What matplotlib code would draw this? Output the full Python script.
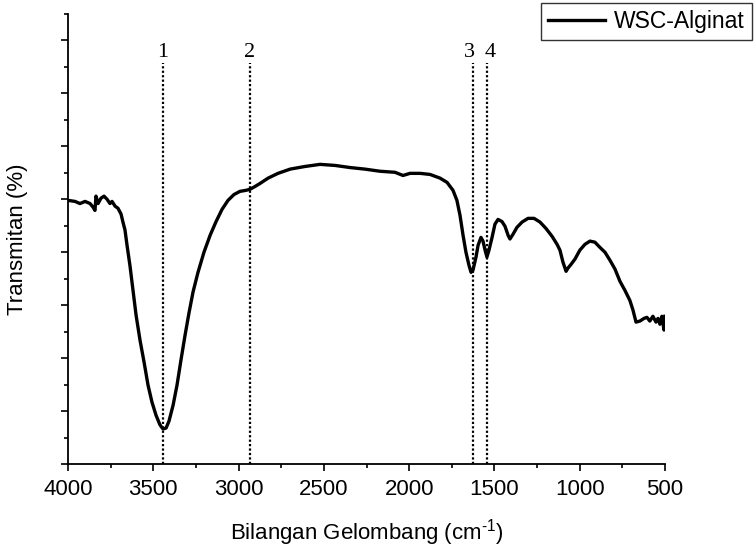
import matplotlib
matplotlib.use("Agg")
import matplotlib.pyplot as plt
from matplotlib.ticker import MultipleLocator, NullFormatter

plt.rcParams['font.family'] = ['Liberation Sans', 'DejaVu Sans']
plt.rcParams['mathtext.fontset'] = 'custom'
plt.rcParams['mathtext.rm'] = 'Liberation Sans'

# FTIR spectrum (wavenumber in cm^-1, transmittance in arbitrary units)
wavenumber = [4000, 3959, 3930, 3900, 3871, 3853, 3842, 3836, 3824, 3807, 3789, 3771,
              3754, 3742, 3724, 3707, 3689, 3678, 3666, 3654, 3637, 3619, 3601, 3578,
              3554, 3531, 3508, 3484, 3461, 3443, 3425, 3408, 3384, 3361, 3338, 3314,
              3291, 3267, 3238, 3203, 3167, 3132, 3097, 3062, 3027, 2992, 2956, 2933,
              2910, 2874, 2827, 2769, 2698, 2611, 2522, 2435, 2347, 2259, 2171, 2083,
              2036, 1995, 1936, 1878, 1819, 1778, 1743, 1720, 1702, 1684, 1667, 1649,
              1637, 1626, 1608, 1596, 1579, 1567, 1555, 1544, 1532, 1514, 1497, 1479,
              1456, 1438, 1420, 1409, 1391, 1368, 1338, 1303, 1268, 1233, 1198, 1162,
              1133, 1116, 1098, 1080, 1069, 1051, 1028, 999, 969, 940, 911, 881, 852,
              823, 793, 764, 735, 706, 688, 670, 647, 623, 606, 589, 571, 553, 541, 530,
              518, 506, 500]
transmittance = [4.98, 4.96, 4.92, 4.96, 4.92, 4.85, 4.79, 5.06, 4.92, 5.02, 5.06, 5.00,
                 4.92, 4.96, 4.87, 4.83, 4.72, 4.57, 4.42, 4.13, 3.75, 3.28, 2.81, 2.34,
                 1.92, 1.49, 1.17, 0.92, 0.74, 0.66, 0.68, 0.81, 1.11, 1.49, 1.96, 2.43,
                 2.85, 3.25, 3.62, 4.00, 4.32, 4.58, 4.81, 4.98, 5.09, 5.15, 5.17, 5.19,
                 5.23, 5.30, 5.40, 5.49, 5.57, 5.62, 5.66, 5.64, 5.60, 5.57, 5.53, 5.51,
                 5.45, 5.49, 5.49, 5.47, 5.40, 5.32, 5.17, 4.98, 4.70, 4.32, 4.00, 3.75,
                 3.62, 3.66, 3.91, 4.13, 4.28, 4.21, 4.04, 3.91, 4.04, 4.28, 4.53, 4.62,
                 4.58, 4.49, 4.32, 4.25, 4.34, 4.47, 4.57, 4.64, 4.64, 4.57, 4.45, 4.30,
                 4.15, 4.04, 3.81, 3.64, 3.70, 3.77, 3.87, 4.04, 4.15, 4.21, 4.19, 4.09,
                 4.00, 3.85, 3.68, 3.45, 3.28, 3.09, 2.91, 2.68, 2.70, 2.75, 2.77, 2.70,
                 2.79, 2.68, 2.75, 2.64, 2.79, 2.53, 2.79]

# Marked peaks
peak_positions = [3443, 2933, 1626, 1544]
peak_labels = ['1', '2', '3', '4']
peak_label_x = [3445, 2933, 1649, 1526]

series_name = 'WSC-Alginat'
x_label = 'Bilangan Gelombang (cm$^{\\text{-1}}$)'
y_label = 'Transmitan (%)'

fig = plt.figure(figsize=(7.55, 5.5), dpi=100)
ax = fig.add_axes([0.0901, 0.1564, 0.7907, 0.8181])

line, = ax.plot(wavenumber, transmittance, color='black', lw=2.4, label=series_name)

ax.vlines(peak_positions, 0, 7.58, colors='black', linestyles=(0, (1, 1)), lw=1.6)
for px, lab in zip(peak_label_x, peak_labels):
    ax.text(px, 7.6, lab, ha='center', va='bottom', fontsize=16,
            family=['Liberation Serif', 'DejaVu Serif'])

ax.set_xlim(4000, 500)
ax.set_ylim(0, 8.5)
ax.xaxis.set_major_locator(MultipleLocator(500))
ax.xaxis.set_minor_locator(MultipleLocator(250))
ax.yaxis.set_major_locator(MultipleLocator(1))
ax.yaxis.set_minor_locator(MultipleLocator(0.5))
ax.yaxis.set_major_formatter(NullFormatter())

for side in ['top', 'right']:
    ax.spines[side].set_visible(False)
for side in ['left', 'bottom']:
    ax.spines[side].set_linewidth(1.3)

ax.tick_params(axis='both', which='major', direction='out', length=5, width=1.2,
               labelsize=16)
ax.tick_params(axis='both', which='minor', direction='out', length=3, width=1.2)
ax.tick_params(axis='x', pad=6)

ax.set_xlabel(x_label, fontsize=16, labelpad=12)
ax.set_ylabel(y_label, fontsize=16, labelpad=20)

leg = ax.legend(loc='upper right', bbox_to_anchor=(0.996, 0.995),
                bbox_transform=fig.transFigure, fontsize=16.5, frameon=True,
                fancybox=False, edgecolor='black', handlelength=2.5,
                borderpad=0.3, handletextpad=0.4, borderaxespad=0)
leg.get_frame().set_linewidth(1.0)

fig.savefig('out.png', dpi=100)
